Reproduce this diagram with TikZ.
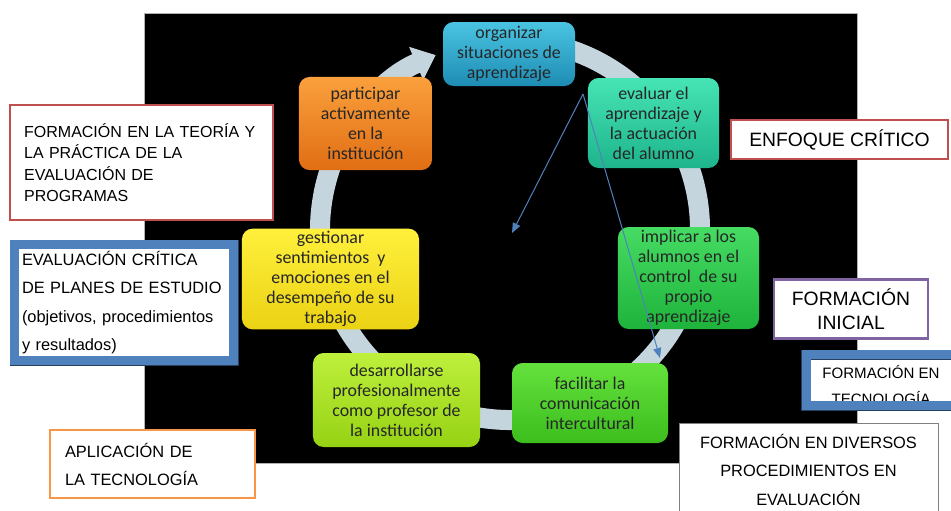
\documentclass[tikz,border=0pt]{standalone}
\usepackage{fontspec}
\setmainfont{Liberation Sans}
\newfontfamily\calib{Carlito}
\usetikzlibrary{arrows.meta}
\definecolor{ringgray}{RGB}{196,213,222}
\definecolor{arrowblue}{RGB}{79,129,189}
\definecolor{boxred}{RGB}{192,80,77}
\definecolor{boxblue}{RGB}{79,129,189}
\definecolor{boxnavy}{RGB}{37,64,97}
\definecolor{boxpurple}{RGB}{128,100,162}
\definecolor{boxorange}{RGB}{247,150,70}
% top and bottom colours of the steps
\definecolor{orgtop}{RGB}{74,196,226}   \definecolor{orgbot}{RGB}{30,140,180}
\definecolor{evatop}{RGB}{70,228,180}   \definecolor{evabot}{RGB}{30,180,140}
\definecolor{imptop}{RGB}{70,220,100}   \definecolor{impbot}{RGB}{30,180,60}
\definecolor{factop}{RGB}{100,225,60}   \definecolor{facbot}{RGB}{60,190,30}
\definecolor{destop}{RGB}{190,240,60}   \definecolor{desbot}{RGB}{150,210,20}
\definecolor{gestop}{RGB}{255,240,60}   \definecolor{gesbot}{RGB}{235,210,20}
\definecolor{partop}{RGB}{250,160,60}   \definecolor{parbot}{RGB}{225,110,20}
\newcommand\ringfont{\calib\fontsize{13.4}{15}\selectfont}
\newcommand\boxfont[2]{\fontsize{#1}{#2}\selectfont}
\tikzset{
  % rounded glossy steps of the cycle and the framed captions round it
  cycle node/.style={rounded corners=8pt,top color=#1top,bottom color=#1bot,
    text=black!85,font=\ringfont,align=center,inner sep=2pt},
  plain box/.style={draw=#1,fill=white,line width=1.5pt,inner sep=0pt},
  blue frame/.style={draw=boxblue,line width=6.75pt,
    preaction={draw=boxnavy,line width=7.5pt}},
  ring/.style={draw=ringgray,line width=15pt,
    -{Triangle[width=26pt,length=16pt]}},
  thin arrow/.style={draw=arrowblue,line width=0.75pt,
    -{Triangle[width=6pt,length=7.5pt]}}
}

\begin{document}
\begin{tikzpicture}[x=0.75pt,y=-0.75pt]
\useasboundingbox (0,0) rectangle (951,511);
\draw[gray!60,fill=black] (144,13) rectangle (857,463);
% the ring
\coordinate (hub) at (510,230);
\draw[ring] (hub) ++(-80:190) arc[start angle=-80,end angle=247,radius=190];
% steps
\node[cycle node=org,minimum width=99pt,minimum height=48pt] (organizar) at (509,54)
  {organizar\\situaciones de\\aprendizaje};
\node[cycle node=eva,minimum width=98.3pt,minimum height=67.5pt] (evaluar) at (653.5,123)
  {evaluar el\\aprendizaje y\\la actuación\\del alumno};
\node[cycle node=imp,minimum width=105.8pt,minimum height=76.5pt] (implicar) at (688.5,278)
  {implicar a los\\alumnos en el\\control\ \ de su\\propio\\aprendizaje};
\node[cycle node=fac,minimum width=117pt,minimum height=60pt] (facilitar) at (590,403)
  {facilitar la\\comunicación\\intercultural};
\node[cycle node=des,minimum width=125.3pt,minimum height=70.5pt] (desarrollarse) at (396.5,400)
  {desarrollarse\\profesionalmente\\como profesor de\\la institución};
\node[cycle node=ges,minimum width=132.8pt,minimum height=75pt] (gestionar) at (330.5,279)
  {gestionar\\sentimientos\ \ y\\emociones en el\\desempeño de su\\trabajo};
\node[cycle node=par,minimum width=99.8pt,minimum height=69.8pt] (participar) at (365.5,123.5)
  {participar\\activamente\\en la\\institución};
% the two blue arrows
\coordinate (split) at (583,94);
\coordinate (tipleft) at (512,233);
\coordinate (tipright) at (660,358);
\draw[thin arrow] (split) -- (tipleft);
\draw[thin arrow] (split) -- (tipright);
% captions
\node[plain box=boxred,minimum width=197.3pt,minimum height=86.3pt,
  text width=176pt,align=left,font=\boxfont{12}{16}] (teoria) at (141.5,162.5)
  {FORMACIÓN EN LA TEORÍA Y\\LA PRÁCTICA DE LA\\EVALUACIÓN DE\\PROGRAMAS};
\node[plain box=boxblue,blue frame,minimum width=164.25pt,minimum height=87pt,
  text width=153pt,align=left,font=\boxfont{12.3}{21.4}] (planes) at (124,302.5)
  {\makebox[153pt][s]{EVALUACIÓN CRÍTICA}\\DE PLANES DE ESTUDIO\\
   \makebox[153pt][s]{(objetivos, procedimientos}\\y resultados)};
\node[plain box=boxorange,minimum width=153.75pt,minimum height=51pt,
  text width=131.25pt,align=left,font=\boxfont{12.3}{21}] (aplicacion) at (152.5,464)
  {APLICACIÓN DE\\LA TECNOLOGÍA};
\node[plain box=boxred,line width=1.8pt,minimum width=162.75pt,minimum height=29.25pt,
  font=\boxfont{14.5}{17}] (enfoque) at (839.5,139.5) {ENFOQUE CRÍTICO};
\node[plain box=boxpurple,line width=2pt,minimum width=115.5pt,minimum height=44.25pt,
  align=center,font=\boxfont{14.5}{18}] (inicial) at (851,309) {FORMACIÓN\\INICIAL};
\fill[white] (806,354.5) rectangle (960,405.5);
\node[align=center,font=\boxfont{11.3}{19.5},inner sep=0pt] (tecno) at (881,385)
  {FORMACIÓN EN\\TECNOLOGÍA};
\draw[blue frame] (806,354.5) rectangle (960,405.5);
\node[plain box=gray,line width=0.75pt,minimum width=194.25pt,minimum height=69pt,
  anchor=north,align=center,font=\boxfont{12.3}{21.4}] (diversos) at (808.5,423)
  {FORMACIÓN EN DIVERSOS\\PROCEDIMIENTOS EN\\EVALUACIÓN};
\end{tikzpicture}
\end{document}
